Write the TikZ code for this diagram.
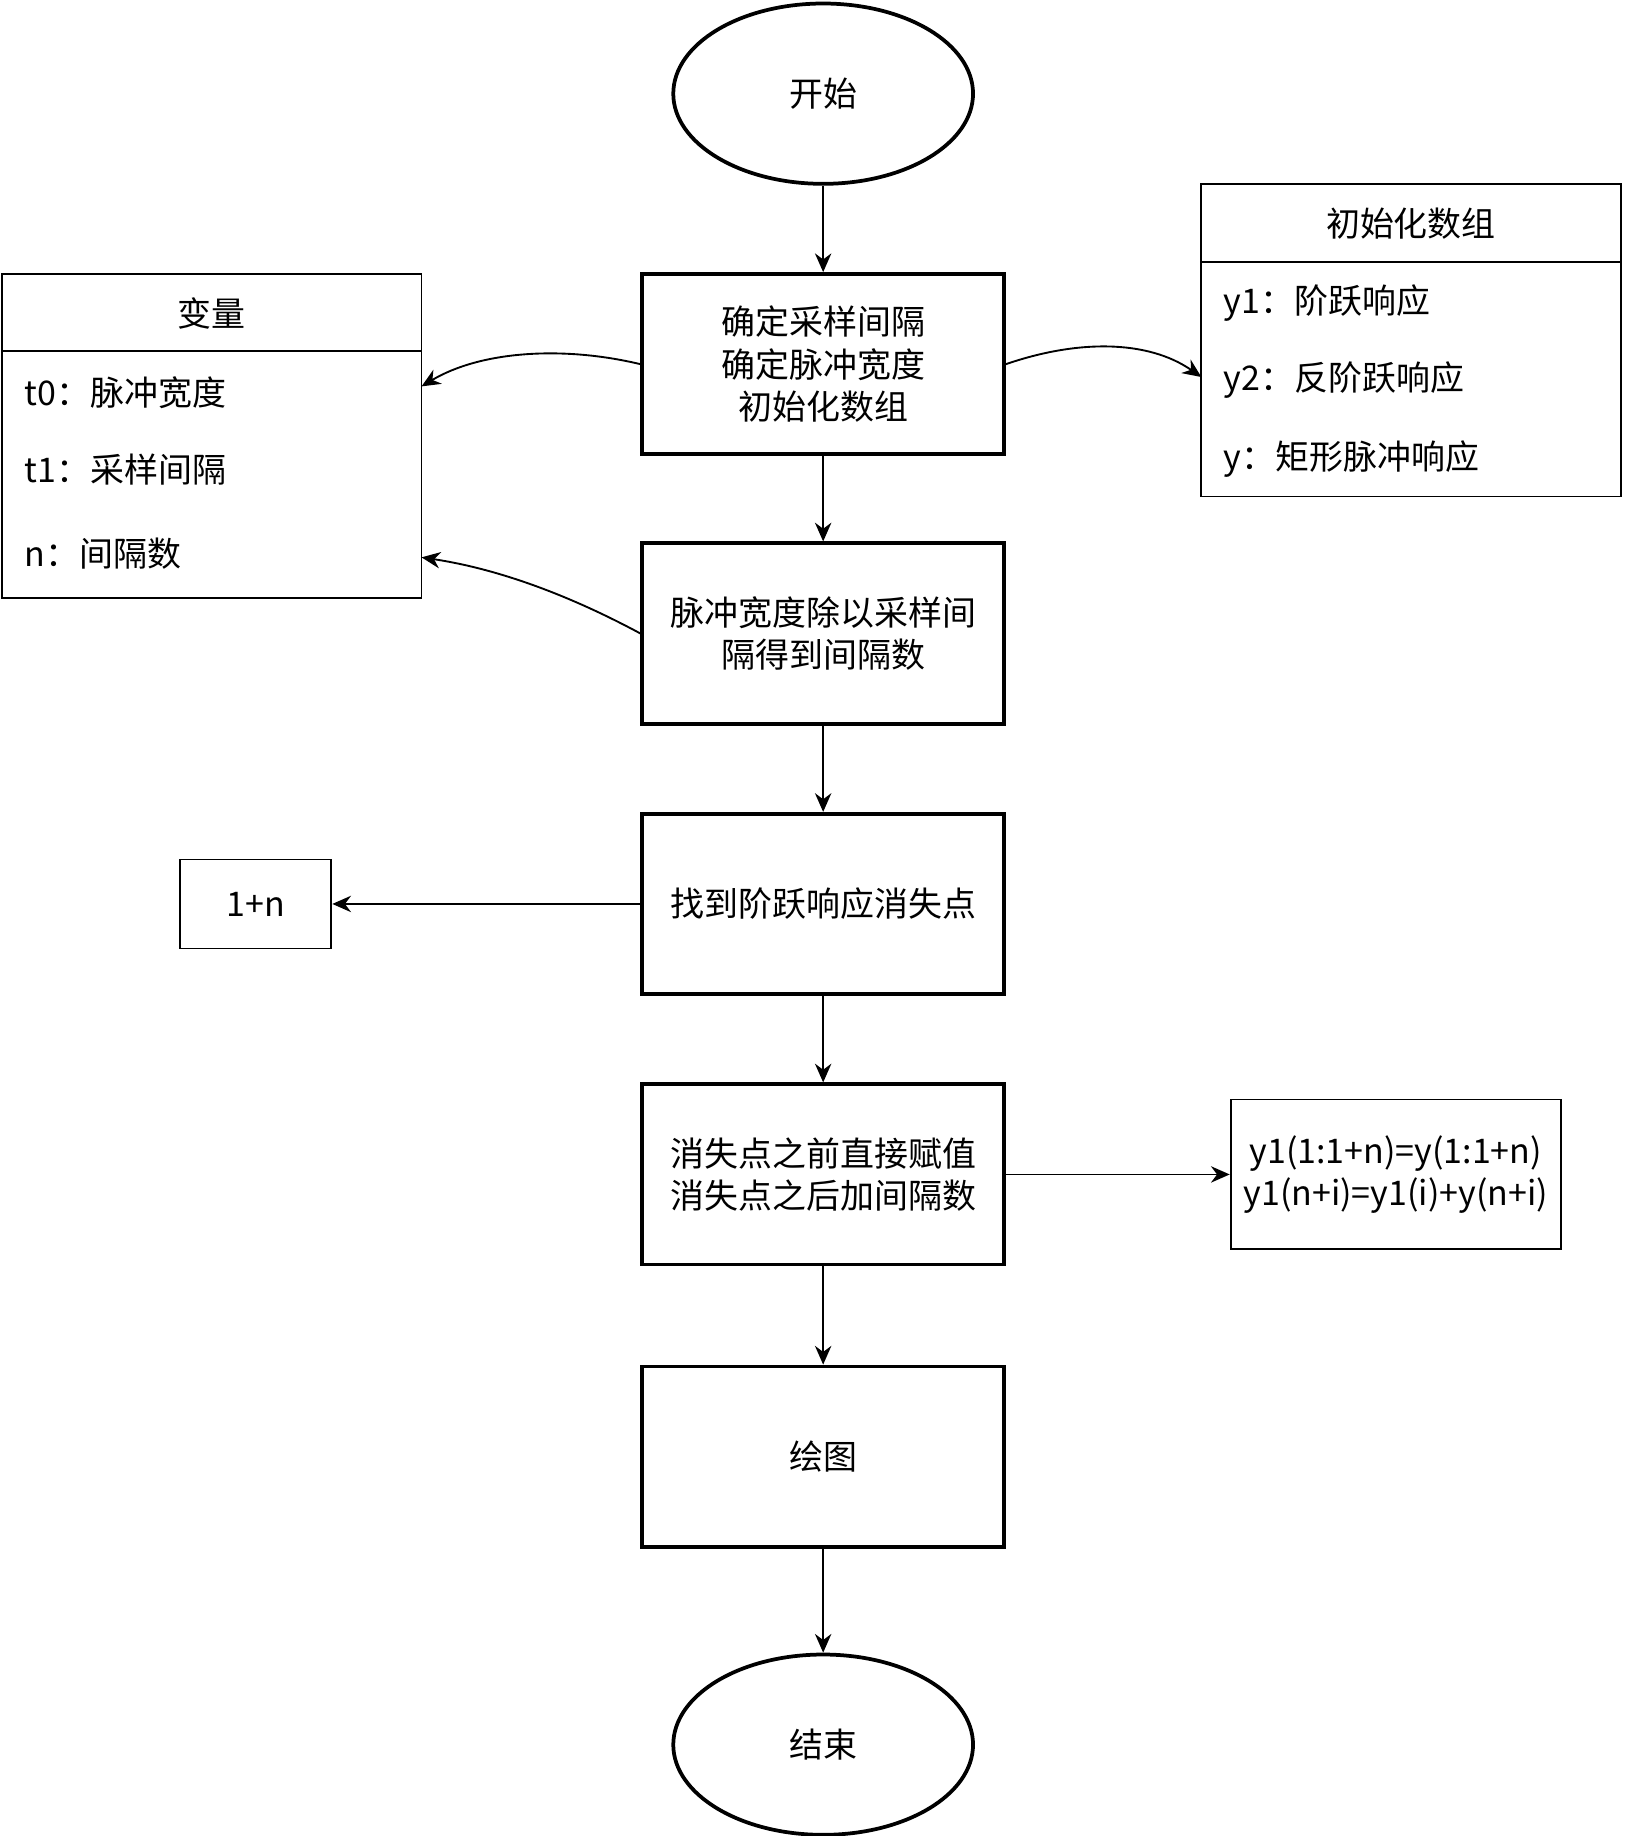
\documentclass[tikz,border=0pt]{standalone}
\usepackage{fontspec}
\setmainfont{Noto Sans CJK SC}
\usetikzlibrary{shapes.geometric,arrows.meta}
\begin{document}
\begin{tikzpicture}[x=0.5pt,y=-0.5pt,
  every node/.style={font=\fontsize{14.5}{18}\selectfont, align=center},
  proc/.style={draw, line width=1.6pt, minimum width=154.5pt, minimum height=77pt, inner sep=0pt},
  term/.style={draw, ellipse, line width=1.6pt, minimum width=128pt, minimum height=77pt},
  arr/.style={-{Stealth[length=8pt,width=7pt]}, line width=0.8pt},
  thin/.style={draw, line width=0.8pt}]
\useasboundingbox (0,0) rectangle (1387,1568);
\node[term] (s) at (703,80) {开始};
\node[proc] (b1) at (703,311) {确定采样间隔\\确定脉冲宽度\\初始化数组};
\node[proc] (b2) at (703,541) {脉冲宽度除以采样间\\隔得到间隔数};
\node[proc] (b3) at (703,772) {找到阶跃响应消失点};
\node[proc] (b4) at (703,1003) {消失点之前直接赋值\\消失点之后加间隔数};
\node[proc] (b5) at (703,1244) {绘图};
\node[term] (e) at (703,1490) {结束};
% left table
\draw[line width=0.8pt] (2,234) rectangle (360,511);
\draw[line width=0.8pt] (2,300) -- (360,300);
\node (lh) at (181,268) {变量};
\node[anchor=west] (l1) at (14,335) {t0：脉冲宽度};
\node[anchor=west] (l2) at (14,401) {t1：采样间隔};
\node[anchor=west] (l3) at (14,473) {n：间隔数};
\coordinate (la) at (360,330);
\coordinate (lb) at (360,476);
% right table
\draw[line width=0.8pt] (1026,157) rectangle (1384,424);
\draw[line width=0.8pt] (1026,224) -- (1384,224);
\node (rh) at (1205,191) {初始化数组};
\node[anchor=west] (r1) at (1038,259) {y1：阶跃响应};
\node[anchor=west] (r2) at (1038,325) {y2：反阶跃响应};
\node[anchor=west] (r3) at (1038,392) {y：矩形脉冲响应};
\coordinate (ra) at (1026,322);
\node[thin, minimum width=64.5pt, minimum height=38pt] (n1) at (218.5,772) {1+n};
\node[thin, minimum width=141pt, minimum height=64pt, inner sep=0pt] (yb) at (1192,1003) {y1(1:1+n)=y(1:1+n)\\y1(n+i)=y1(i)+y(n+i)};
\draw[arr] (s) -- (b1);
\draw[arr] (b1) -- (b2);
\draw[arr] (b2) -- (b3);
\draw[arr] (b3) -- (b4);
\draw[arr] (b4) -- (b5);
\draw[arr] (b5) -- (e);
\draw[arr] (b1.west) .. controls (480,295) and (410,300) .. (la);
\draw[arr] (b1.east) .. controls (920,290) and (980,290) .. (ra);
\draw[arr] (b2.west) .. controls (480,505) and (420,485) .. (lb);
\draw[arr] (b3.west) -- (n1.east);
\draw[arr] (b4.east) -- (yb.west);
\end{tikzpicture}
\end{document}
